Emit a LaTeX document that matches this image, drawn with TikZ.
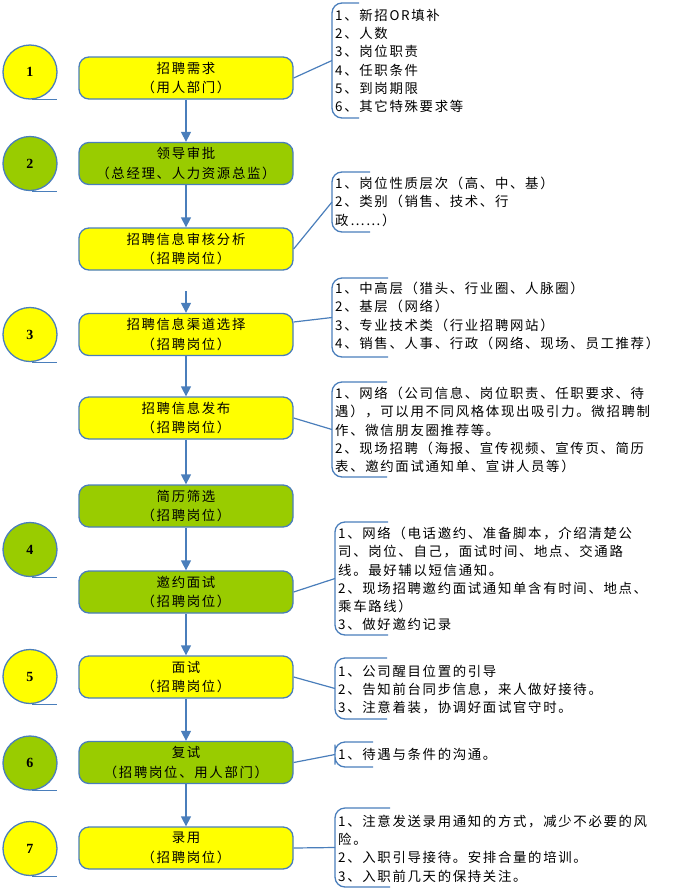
\documentclass[tikz,border=0pt]{standalone}
\usepackage{fontspec}
\usetikzlibrary{arrows.meta}
\newfontfamily\cjk[LetterSpace=12.5]{Noto Sans CJK SC}
\newfontfamily\numfont{Liberation Serif}
\definecolor{lineblue}{HTML}{4A7EBB}
\definecolor{leafgreen}{HTML}{99CC00}
\definecolor{lemon}{HTML}{FFFF00}
\begin{document}
\begin{tikzpicture}[x=1pt,y=-1pt,
  stepbox/.style={draw=lineblue, line width=1.3pt, rounded corners=10pt,
    minimum width=214pt, minimum height=42pt, inner sep=0pt, align=center,
    font=\cjk\fontsize{13.4}{19.5}\selectfont},
  ybox/.style={stepbox, fill=lemon},
  gbox/.style={stepbox, fill=leafgreen},
  numcirc/.style={circle, draw=lineblue, line width=1.3pt, minimum size=54pt,
    inner sep=0pt, font=\numfont\bfseries\fontsize{14}{14}\selectfont},
  ycirc/.style={numcirc, fill=lemon},
  gcirc/.style={numcirc, fill=leafgreen},
  flow/.style={draw=lineblue, line width=1.3pt, -{Triangle[width=10pt,length=10pt]}},
  link/.style={draw=lineblue, line width=1.2pt},
  brace/.style={draw=lineblue, line width=1.3pt, rounded corners=10pt},
  note/.style={anchor=north west, inner sep=0pt, align=left,
    font=\cjk\fontsize{13.4}{18.2}\selectfont}
]
\useasboundingbox (0,0) rectangle (677,892);

% circles
\node[ycirc] (c1) at (30,72) {1};
\node[gcirc] (c2) at (30,163.5) {2};
\node[ycirc] (c3) at (30,334.5) {3};
\node[gcirc] (c4) at (30,549.5) {4};
\node[ycirc] (c5) at (30,676.5) {5};
\node[gcirc] (c6) at (30,763) {6};
\node[ycirc] (c7) at (30,848.5) {7};
\foreach \c in {c1,c2,c3,c4,c5,c6,c7}
  \draw[link] ([xshift=2pt]\c.south) -- ++(25,0);

% boxes
\node[ybox] (b1) at (186,78) {招聘需求\\（用人部门）};
\node[gbox] (b2) at (186,163.5) {领导审批\\（总经理、人力资源总监）};
\node[ybox] (b3) at (186,249) {招聘信息审核分析\\（招聘岗位）};
\node[ybox] (b4) at (186,334.5) {招聘信息渠道选择\\（招聘岗位）};
\node[ybox] (b5) at (186,418) {招聘信息发布\\（招聘岗位）};
\node[gbox] (b6) at (186,506) {简历筛选\\（招聘岗位）};
\node[gbox] (b7) at (186,592) {邀约面试\\（招聘岗位）};
\node[ybox] (b8) at (186,677) {面试\\（招聘岗位）};
\node[gbox] (b9) at (186,762.5) {复试\\（招聘岗位、用人部门）};
\node[ybox] (b10) at (186,848) {录用\\（招聘岗位）};

% flow arrows
\coordinate (a3) at (186,291);
\draw[flow] (b1) -- (b2);
\draw[flow] (b2) -- (b3);
\draw[flow] (a3) -- (b4);
\draw[flow] (b4) -- (b5);
\draw[flow] (b5) -- (b6);
\draw[flow] (b6) -- (b7);
\draw[flow] (b7) -- (b8);
\draw[flow] (b8) -- (b9);
\draw[flow] (b9) -- (b10);

% brackets
\coordinate (k1) at (332,60.5);
\draw[brace] (359,3) -| (k1) |- (359,118);
\coordinate (k2) at (332,202);
\draw[brace] (370,172) -| (k2) |- (370,232);
\coordinate (k3) at (332,317.5);
\draw[brace] (388,278) -| (k3) |- (388,357);
\coordinate (k4) at (332,429.5);
\draw[brace] (387,382) -| (k4) |- (387,477);
\coordinate (k5) at (335,578.5);
\draw[brace] (388,522) -| (k5) |- (388,635);
\coordinate (k6) at (335,688.5);
\draw[brace] (387,658) -| (k6) |- (387,719);
\coordinate (k7) at (335,754.5);
\draw[brace] (373,742) -| (k7) |- (373,767);
\coordinate (k8) at (335,847.5);
\draw[brace] (390,808) -| (k8) |- (390,887);

% links
\draw[link] (b1.east) -- (k1);
\draw[link] (b3.east) -- (k2);
\draw[link] ([yshift=12.5pt]b4.east) -- (k3);
\draw[link] (b5.east) -- (k4);
\draw[link] (b7.east) -- (k5);
\draw[link] (b8.east) -- (k6);
\draw[link] (b9.east) -- (k7);
\draw[link] (b10.east) -- (k8);

% notes
\node[note] (t1) at (335,9) {1、新招OR填补\\2、人数\\3、岗位职责\\4、任职条件\\5、到岗期限\\6、其它特殊要求等};
\node[note] (t2) at (335,177) {1、岗位性质层次（高、中、基）\\2、类别（销售、技术、行\\政⋯⋯）};
\node[note] (t3) at (335,282) {1、中高层（猎头、行业圈、人脉圈）\\2、基层（网络）\\3、专业技术类（行业招聘网站）\\4、销售、人事、行政（网络、现场、员工推荐）};
\node[note] (t4) at (335,387) {1、网络（公司信息、岗位职责、任职要求、待\\遇），可以用不同风格体现出吸引力。微招聘制\\作、微信朋友圈推荐等。\\2、现场招聘（海报、宣传视频、宣传页、简历\\表、邀约面试通知单、宣讲人员等）};
\node[note] (t5) at (338,527) {1、网络（电话邀约、准备脚本，介绍清楚公\\司、岗位、自己，面试时间、地点、交通路\\线。最好辅以短信通知。\\2、现场招聘邀约面试通知单含有时间、地点、\\乘车路线）\\3、做好邀约记录};
\node[note] (t6) at (338,665) {1、公司醒目位置的引导\\2、告知前台同步信息，来人做好接待。\\3、注意着装，协调好面试官守时。};
\node[note] (t7) at (338,748) {1、待遇与条件的沟通。};
\node[note] (t8) at (338,815) {1、注意发送录用通知的方式，减少不必要的风\\险。\\2、入职引导接待。安排合量的培训。\\3、入职前几天的保持关注。};
\end{tikzpicture}
\end{document}
